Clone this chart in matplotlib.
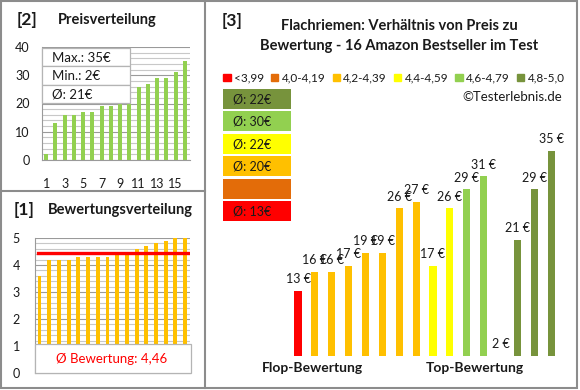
import matplotlib
matplotlib.use('Agg')
import matplotlib.pyplot as plt
from matplotlib.patches import Rectangle, Patch
from matplotlib.ticker import MultipleLocator

plt.rcParams['font.family'] = ['Lato', 'DejaVu Sans']

W, H = 580, 390

# [2] Preisverteilung (sortiert)
prices_sorted = [2, 13, 16, 16, 17, 17, 19, 19, 21, 26, 26, 27, 29, 29, 31, 35]
price_stats = ['Max.: 35€', 'Min.: 2€', 'Ø: 21€']
price_ticks = ['1', '3', '5', '7', '9', '11', '13', '15']

# [1] Bewertungsverteilung (sortiert)
ratings_sorted = [3.6, 4.2, 4.2, 4.2, 4.3, 4.3, 4.3, 4.3, 4.4, 4.4, 4.6, 4.7, 4.8, 4.9, 5.0, 5.0]
rating_mean = 4.46

# [3] Preis nach Bewertung
prices = [13, 16, 16, 17, 19, 19, 26, 27, 17, 26, 29, 31, 2, 21, 29, 35]
groups = [0, 2, 2, 2, 2, 2, 2, 2, 3, 3, 4, 4, 5, 5, 5, 5]
group_names = ['<3,99', '4,0-4,19', '4,2-4,39', '4,4-4,59', '4,6-4,79', '4,8-5,0']
group_colors = ['#FF0000', '#E36C09', '#FFC000', '#FFFF00', '#92D050', '#77933C']
group_avgs = ['Ø: 13€', '', 'Ø: 20€', 'Ø: 22€', 'Ø: 30€', 'Ø: 22€']

TXT = '#1a1a1a'
GRID_MAJ = '#9a9a9a'
GRID_MIN = '#c8c8c8'
FRAME = '#8c8c8c'

fig = plt.figure(figsize=(W / 100, H / 100), dpi=100)


def px_axes(x0, y0, x1, y1):
    return fig.add_axes([x0 / W, 1 - y1 / H, (x1 - x0) / W, (y1 - y0) / H])


def ftext(x, y, s, **kw):
    kw.setdefault('color', TXT)
    kw.setdefault('va', 'center')
    return fig.text(x / W, 1 - y / H, s, **kw)


def frect(x0, y0, x1, y1, **kw):
    fig.add_artist(Rectangle((x0 / W, 1 - y1 / H), (x1 - x0) / W, (y1 - y0) / H,
                             transform=fig.transFigure, **kw))


def style_grid(ax, major, minor):
    ax.yaxis.set_major_locator(MultipleLocator(major))
    ax.yaxis.set_minor_locator(MultipleLocator(minor))
    ax.grid(axis='y', which='major', color=GRID_MAJ, lw=0.8)
    ax.grid(axis='y', which='minor', color=GRID_MIN, lw=0.8)
    ax.set_axisbelow(True)
    for s in ['top', 'right']:
        ax.spines[s].set_visible(False)
    for s in ['left', 'bottom']:
        ax.spines[s].set_color(GRID_MAJ)
    ax.tick_params(which='both', length=0, labelsize=9, labelcolor=TXT)


# panel frames
frect(1, 1, 577, 388, fill=False, ec=FRAME, lw=1.5)
fig.add_artist(plt.Line2D([205 / W, 205 / W], [1 - 1 / H, 1 - 388 / H], transform=fig.transFigure, color=FRAME, lw=1.5))
fig.add_artist(plt.Line2D([1 / W, 205 / W], [1 - 191 / H, 1 - 191 / H], transform=fig.transFigure, color=FRAME, lw=1.5))

# ---- [2] Preisverteilung
ax1 = px_axes(42, 47, 190, 160)
x = range(len(prices_sorted))
ax1.bar(x, prices_sorted, width=0.45, color='#92D050')
ax1.set_xlim(-0.45, 15.55)
ax1.set_ylim(0, 40)
style_grid(ax1, 10, 2)
ax1.set_xticks(range(0, 16, 2))
ax1.set_xticklabels(price_ticks)
ax1.tick_params(axis='x', pad=13)
ax1.tick_params(axis='y', pad=9)

ftext(17, 20, '[2]', fontsize=12.5, fontweight='bold')
ftext(58, 20, 'Preisverteilung', fontsize=10.5, fontweight='bold')

for i, s in enumerate(price_stats):
    y0 = 48 + i * 18.4
    frect(42, y0, 130, y0 + 18.4, fc='white', ec='#b4b4b4', lw=0.9)
    ftext(52, y0 + 9.5, s, fontsize=9.5)

# ---- [1] Bewertungsverteilung
ax2 = px_axes(35, 238, 190, 373)
ax2.bar(range(len(ratings_sorted)), ratings_sorted, width=0.4, color='#FFC000')
ax2.axhline(rating_mean, xmin=0.02, xmax=0.99, color='#FF0000', lw=2.4)
ax2.set_xlim(-0.46, 15.5)
ax2.set_ylim(0, 5)
style_grid(ax2, 1, 0.2)
ax2.set_xticks([])
ax2.tick_params(axis='y', pad=11)

ftext(14, 210, '[1]', fontsize=12.5, fontweight='bold')
ftext(48, 210, 'Bewertungsverteilung', fontsize=10.5, fontweight='bold')

frect(35, 344, 191, 373, fc='white', ec='#b4b4b4', lw=0.9)
ftext(112, 359, 'Ø Bewertung: ' + f'{rating_mean:.2f}'.replace('.', ','),
      fontsize=9.5, color='#FF0000', ha='center')

# ---- [3] Preis zu Bewertung
ylo = 2.8
ax3 = px_axes(289.6, 140, 559.5, 356)
ax3.bar(range(len(prices)), prices, width=0.42, color=[group_colors[g] for g in groups])
ax3.set_xlim(-0.5, 15.5)
ax3.set_ylim(ylo, 36.7)
ax3.axis('off')
for i, v in enumerate(prices):
    ax3.annotate(f'{v} €', (i, max(v, ylo)), xytext=(0, 4), textcoords='offset points',
                 ha='center', va='bottom', fontsize=9, color=TXT)

ftext(222, 21, '[3]', fontsize=12.5, fontweight='bold')
ftext(399, 26, 'Flachriemen: Verhältnis von Preis zu', fontsize=10.5, fontweight='bold', ha='center')
ftext(399, 46, 'Bewertung - 16 Amazon Bestseller im Test', fontsize=10.5, fontweight='bold', ha='center')

handles = [Patch(color=c) for c in group_colors]
fig.legend(handles, group_names, ncol=6, loc='center', bbox_to_anchor=(394 / W, 1 - 78 / H),
           frameon=False, handlelength=0.6, handleheight=0.6, handletextpad=0.3,
           columnspacing=0.6, fontsize=8.5, labelcolor=TXT, borderpad=0)

ftext(562, 97, '©Testerlebnis.de', fontsize=9.5, ha='right')

for i, g in enumerate(reversed(range(len(group_names)))):
    y0 = 89 + i * 22.4
    frect(223, y0, 291, y0 + 20, fc=group_colors[g], ec='none')
    ftext(233, y0 + 10.5, group_avgs[g], fontsize=9)

ftext(312, 368, 'Flop-Bewertung', fontsize=10, fontweight='bold', ha='center')
ftext(475, 368, 'Top-Bewertung', fontsize=10, fontweight='bold', ha='center')

fig.savefig('out.png', dpi=100)
